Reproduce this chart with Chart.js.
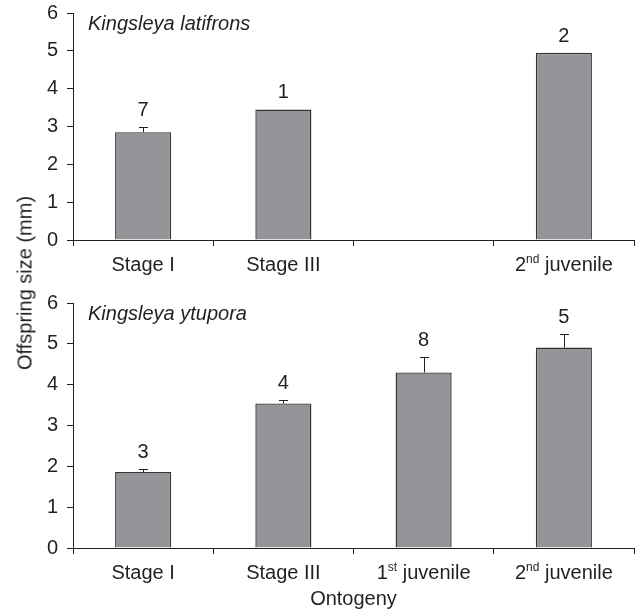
<!DOCTYPE html>
<html>
<head>
<meta charset="utf-8">
<script src="https://cdn.jsdelivr.net/npm/chart.js@4.4.1/dist/chart.umd.min.js"></script>
<style>
  body { margin: 0; background: #fff; }
  #page { position: relative; width: 638px; height: 611px; }
  .panel { position: absolute; left: 0; width: 638px; }
  #topBox { top: 0; height: 290px; }
  #bottomBox { top: 290px; height: 321px; }
  #yTitle {
    position: absolute; left: 25px; top: 283px;
    transform: translate(-50%, -50%) rotate(-90deg);
    font: 20px "Liberation Sans", Arial, sans-serif;
    color: #231f20; white-space: nowrap;
  }
</style>
</head>
<body>
<div id="page">
  <div class="panel" id="topBox"><canvas id="topChart"></canvas></div>
  <div class="panel" id="bottomBox"><canvas id="bottomChart"></canvas></div>
  <div id="yTitle">Offspring size (mm)</div>
</div>
<script>
// Kingsleya latifrons
const topCategories = ["Stage I", "Stage III", "", "2nd juvenile"];
const topMeans = [2.85, 3.45, null, 4.95];
const topErrors = [0.13, 0, null, 0];
const topCounts = [7, 1, null, 2];

// Kingsleya ytupora
const bottomCategories = ["Stage I", "Stage III", "1st juvenile", "2nd juvenile"];
const bottomMeans = [1.86, 3.54, 4.30, 4.91];
const bottomErrors = [0.07, 0.08, 0.38, 0.32];
const bottomCounts = [3, 4, 8, 5];

const yMin = 0;
const yMax = 6;

const TEXT = "#231f20";
const FAMILY = "'Liberation Sans', Arial, sans-serif";
const FONT = "20px " + FAMILY;
const SUP_FONT = "12px " + FAMILY;

// tick label with optional ordinal superscript ("2nd juvenile")
function drawTickLabel(ctx, text, cx, baseY) {
    if (!text) return;
    const m = text.match(/^(\d+)(st|nd|rd|th)(.*)$/);
    ctx.textAlign = "left";
    ctx.textBaseline = "alphabetic";
    ctx.font = FONT;
    if (!m) {
        ctx.fillText(text, cx - ctx.measureText(text).width / 2, baseY);
        return;
    }
    const w1 = ctx.measureText(m[1]).width;
    const w3 = ctx.measureText(m[3]).width;
    ctx.font = SUP_FONT;
    const w2 = ctx.measureText(m[2]).width;
    let x0 = cx - (w1 + w2 + w3) / 2;
    ctx.font = FONT;
    ctx.fillText(m[1], x0, baseY);
    ctx.font = SUP_FONT;
    ctx.fillText(m[2], x0 + w1, baseY - 8);
    ctx.font = FONT;
    ctx.fillText(m[3], x0 + w1 + w2, baseY);
}

function makeDecor(species, categories, means, errors, counts) {
    return {
        id: "decor",
        afterDatasetsDraw(chart) {
            const ctx = chart.ctx;
            const xs = chart.scales.x;
            const ys = chart.scales.y;
            const meta = chart.getDatasetMeta(0);
            ctx.save();
            ctx.strokeStyle = TEXT;
            ctx.fillStyle = TEXT;
            ctx.lineWidth = 1;
            meta.data.forEach((bar, i) => {
                if (means[i] == null) return;
                const e = errors[i] || 0;
                const yTop = ys.getPixelForValue(means[i] + e);
                const bx = Math.round(bar.x) + 0.5;
                if (e > 0) {
                    const yc = Math.round(yTop) + 0.5;
                    ctx.beginPath();
                    ctx.moveTo(bx, bar.y);
                    ctx.lineTo(bx, yc);
                    ctx.moveTo(bx - 4.5, yc);
                    ctx.lineTo(bx + 4.5, yc);
                    ctx.stroke();
                }
                ctx.font = FONT;
                ctx.textAlign = "center";
                ctx.textBaseline = "alphabetic";
                ctx.fillText(String(counts[i]), bar.x, yTop - 11);
            });

            ctx.font = "italic " + FONT;
            ctx.textAlign = "left";
            ctx.fillText(species, chart.chartArea.left + 15, chart.chartArea.top + 17);

            categories.forEach((lab, i) => {
                drawTickLabel(ctx, lab, xs.getPixelForValue(i), xs.top + 31);
            });
            ctx.restore();
        }
    };
}

function makeChart(id, species, categories, means, errors, counts, xHeight, xTitle) {
    return new Chart(document.getElementById(id), {
        type: "bar",
        data: {
            labels: categories,
            datasets: [{
                data: means,
                backgroundColor: "#939598",
                borderColor: "#333333",
                borderWidth: 1.4,
                barPercentage: 0.4,
                categoryPercentage: 1.0
            }]
        },
        options: {
            responsive: true,
            maintainAspectRatio: false,
            animation: false,
            layout: { padding: { top: 13, right: 4, left: 0, bottom: 0 } },
            plugins: {
                legend: { display: false },
                tooltip: { enabled: false }
            },
            scales: {
                x: {
                    grid: {
                        drawOnChartArea: false,
                        drawTicks: true,
                        tickLength: 6,
                        color: TEXT,
                        offset: true
                    },
                    border: { display: true, color: TEXT, width: 1 },
                    ticks: { display: false },
                    title: {
                        display: !!xTitle,
                        text: xTitle || "",
                        color: TEXT,
                        font: { family: FAMILY, size: 20 },
                        padding: { top: 0, bottom: 0 }
                    },
                    afterFit: (s) => { s.height = xHeight; }
                },
                y: {
                    min: yMin,
                    max: yMax,
                    ticks: {
                        stepSize: 1,
                        padding: 9,
                        color: TEXT,
                        font: { family: FAMILY, size: 20 }
                    },
                    grid: { drawOnChartArea: false, tickLength: 6, color: TEXT },
                    border: { display: true, color: TEXT, width: 1 },
                    afterFit: (s) => {
                        s.width = 73;
                        s.paddingTop = 0;
                        s.paddingBottom = 0;
                    }
                }
            }
        },
        plugins: [makeDecor(species, categories, means, errors, counts)]
    });
}

makeChart("topChart", "Kingsleya latifrons", topCategories, topMeans, topErrors, topCounts, 50, null);
makeChart("bottomChart", "Kingsleya ytupora", bottomCategories, bottomMeans, bottomErrors, bottomCounts, 63, "Ontogeny");
</script>
</body>
</html>
